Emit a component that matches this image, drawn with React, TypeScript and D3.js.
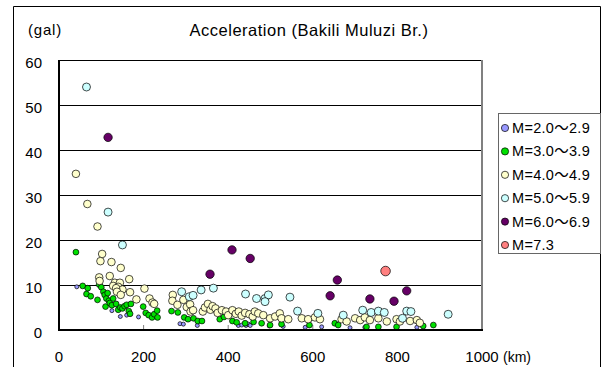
import React from "react";
import * as d3 from "d3";

// ---- data (distance km, acceleration gal) ----
const seriesNames = ["M=2.0〜2.9", "M=3.0〜3.9", "M=4.0〜4.9", "M=5.0〜5.9", "M=6.0〜6.9", "M=7.3"];
const seriesColors = ["#9999ff", "#00e000", "#ffffcc", "#ccffff", "#660066", "#ff8080"];
const seriesRadius = [2.0, 2.9, 3.8, 4.0, 4.2, 4.8];

const m2: [number, number][] = [
  [42, 9.6], [125, 4.3], [145, 3.0], [160, 3.3], [188, 2.9], [286, 1.4], [294, 1.3], [327, 1.0],
  [424, 1.0], [432, 1.1], [442, 1.0], [448, 1.3], [452, 1.0], [497, 0.9], [530, 0.8], [582, 0.6],
  [621, 0.7], [688, 0.5], [723, 0.6], [846, 0.6],
];
const m3: [number, number][] = [
  [40, 17.3], [56, 9.8], [65, 8.0], [68, 9.3], [75, 7.5], [91, 6.7], [95, 10.1], [100, 9.5], [105, 8.5],
  [108, 7.8], [112, 7.0], [115, 8.2], [118, 6.5], [110, 5.2], [120, 6.0], [125, 5.5], [128, 7.0],
  [135, 5.8], [140, 4.5], [145, 5.0], [150, 4.8], [155, 5.3], [160, 5.6], [165, 4.2], [170, 5.8],
  [168, 3.6], [199, 5.2], [205, 3.8], [212, 3.3], [220, 2.8], [225, 3.5], [232, 4.3], [233, 2.8],
  [266, 4.2], [281, 3.9], [296, 2.8], [305, 2.4], [318, 2.6], [328, 2.0], [338, 2.0], [380, 2.4],
  [390, 2.9], [410, 2.0], [420, 1.7], [440, 1.5], [460, 1.8], [479, 1.5], [499, 1.1], [526, 1.3],
  [592, 1.1], [652, 1.5], [660, 1.1], [727, 0.7], [755, 0.7], [798, 0.7], [861, 0.9], [885, 1.1],
];
const m4: [number, number][] = [
  [40, 34.7], [67, 28.0], [91, 23.0], [102, 16.9], [98, 15.3], [124, 15.1], [146, 13.8], [95, 11.7],
  [96, 10.9], [120, 12.0], [132, 10.5], [144, 10.5], [166, 11.3], [128, 9.8], [140, 9.6], [150, 9.0],
  [135, 9.3], [137, 8.5], [146, 7.8], [168, 8.4], [183, 6.8], [202, 9.2], [214, 7.0], [221, 6.1],
  [225, 5.8], [269, 7.8], [268, 6.5], [280, 5.6], [294, 6.7], [302, 5.1], [310, 5.7], [311, 4.1],
  [317, 4.4], [340, 4.1], [345, 5.0], [352, 5.8], [358, 4.5], [363, 5.3], [370, 4.8], [375, 3.8],
  [385, 4.4], [395, 4.1], [400, 3.3], [410, 4.4], [418, 3.6], [425, 4.1], [432, 3.2], [440, 3.8],
  [450, 3.5], [458, 3.0], [463, 4.1], [471, 3.7], [483, 3.3], [499, 2.6], [511, 3.0], [522, 3.7],
  [526, 2.6], [542, 2.4], [574, 2.6], [589, 2.4], [605, 2.8], [617, 2.4], [668, 2.4], [680, 1.9],
  [700, 2.6], [712, 2.2], [723, 2.8], [735, 2.2], [755, 2.6], [775, 1.9], [798, 2.4], [806, 1.9],
  [830, 2.0], [846, 2.2], [853, 1.6],
];
const m5: [number, number][] = [
  [65, 54.0], [116, 26.2], [150, 18.9], [290, 8.5], [308, 7.4], [317, 7.7], [336, 8.9], [365, 9.3],
  [441, 8.0], [467, 7.0], [487, 7.0], [495, 7.8], [487, 6.3], [546, 7.3], [564, 4.2], [612, 3.7],
  [672, 3.3], [718, 4.4], [738, 3.9], [755, 4.2], [769, 3.9], [812, 2.6], [822, 4.2], [832, 4.1],
  [920, 3.5],
];
const m6: [number, number][] = [
  [116, 42.8], [357, 12.4], [409, 17.8], [452, 15.9], [641, 7.6], [658, 11.1], [735, 6.9], [792, 6.4],
  [822, 8.7],
];
const m7: [number, number][] = [[772, 13.1]];

const allSeries = [m2, m3, m4, m5, m6, m7];
const xTicks = [0, 200, 400, 600, 800, 1000];
const yTicks = [0, 10, 20, 30, 40, 50, 60];

const W = 603;
const H = 367;
const L = 59, R = 482, T = 60, B = 330;

export default function App() {
  const x = d3.scaleLinear().domain([0, 1000]).range([L, R]);
  const y = d3.scaleLinear().domain([0, 60]).range([B, T]);
  const font = "'Liberation Sans', Arial, 'Noto Sans CJK JP', sans-serif";

  return (
    <svg
      width={W}
      height={H}
      style={{ position: "absolute", left: 0, top: 0, background: "#fff" }}
      fontFamily={font}
    >
      <rect x={0} y={0} width={W} height={H} fill="#fff" />
      {/* outer frame */}
      <path d={`M13.5,${H} V6.5 H600.5 V${H}`} fill="none" stroke="#000" strokeWidth={1} />

      {/* title */}
      <text x={309} y={36} textAnchor="middle" fontSize={16.5} letterSpacing={0.5} fill="#000">
        Acceleration (Bakili Muluzi Br.)
      </text>
      <text x={45} y={35} textAnchor="middle" fontSize={15} letterSpacing={0.8} fill="#000">
        (gal)
      </text>

      {/* gridlines */}
      {yTicks.filter((v) => v > 0).map((v) => (
        <line key={v} x1={L} x2={R} y1={Math.round(y(v)) + 0.5} y2={Math.round(y(v)) + 0.5} stroke="#000" strokeWidth={1} />
      ))}
      {/* x tick marks */}
      {xTicks.filter((v) => v > 0 && v < 1000).map((v) => (
        <line key={v} x1={x(v)} x2={x(v)} y1={B} y2={B - 5} stroke="#808080" strokeWidth={1} />
      ))}
      {/* right border */}
      <line x1={R} x2={R} y1={T} y2={B} stroke="#808080" strokeWidth={2} />

      {/* points */}
      {allSeries.map((s, i) => (
        <g key={i}>
          {s.map((d, j) => (
            <circle
              key={j}
              cx={x(d[0])}
              cy={y(d[1])}
              r={seriesRadius[i]}
              fill={seriesColors[i]}
              stroke="#000"
              strokeWidth={0.7}
            />
          ))}
        </g>
      ))}

      {/* axes */}
      <line x1={L} x2={L} y1={T} y2={B + 1} stroke="#000" strokeWidth={2} />
      <line x1={L - 1} x2={R + 1} y1={B} y2={B} stroke="#000" strokeWidth={2} />

      {/* y tick labels */}
      {yTicks.map((v) => (
        <text key={v} x={42} y={y(v) + 2} textAnchor="end" dominantBaseline="central" fontSize={15} fill="#000">
          {v}
        </text>
      ))}
      {/* x tick labels */}
      {xTicks.map((v) => (
        <text key={v} x={x(v)} y={362} textAnchor="middle" fontSize={15} fill="#000">
          {v}
        </text>
      ))}
      <text x={503} y={362} fontSize={14} fill="#000">(km)</text>

      {/* legend */}
      <rect x={498.5} y={113.5} width={102} height={140} fill="#fff" stroke="#666" strokeWidth={1} />
      {seriesNames.map((n, i) => {
        const cy = 128 + i * 23.4;
        return (
          <g key={n}>
            <circle cx={505} cy={cy} r={3.6} fill={seriesColors[i]} stroke="#000" strokeWidth={0.7} />
            <text x={512} y={cy} dominantBaseline="central" fontSize={14.5} letterSpacing={0.3} fill="#000">
              {n}
            </text>
          </g>
        );
      })}
    </svg>
  );
}
